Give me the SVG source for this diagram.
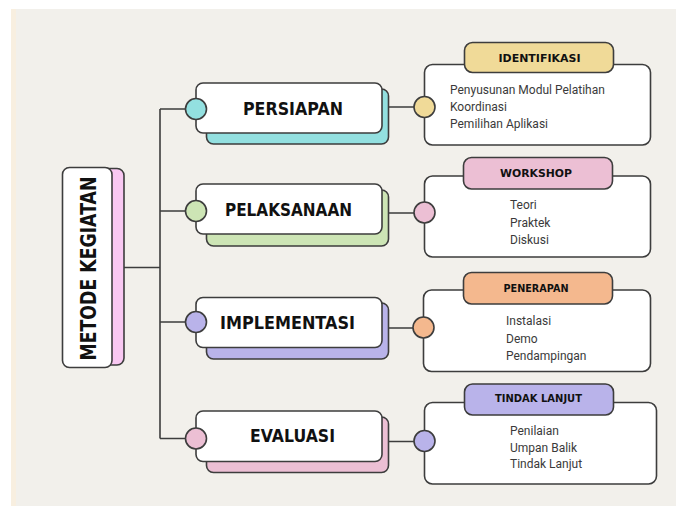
<svg xmlns="http://www.w3.org/2000/svg" width="676" height="514" viewBox="0 0 676 514">
<style>
.ln{fill:none;stroke:#3d3d3d;stroke-width:1.6}
.bx{stroke:#3d3d3d;stroke-width:1.6}
.w{fill:#ffffff}
.ttl{font-family:"DejaVu Sans",sans-serif;font-weight:bold;fill:#111;text-anchor:middle}
.pt{font-family:"DejaVu Sans",sans-serif;font-weight:bold;fill:#111;font-size:11px;text-anchor:middle}
.it{font-family:Roboto,"Liberation Sans",sans-serif;font-size:12px;fill:#3a3a3a}
</style>
<rect x="0" y="0" width="676" height="514" fill="#ffffff"/>
<rect x="11" y="9" width="665" height="497" fill="#f2f0eb"/>
<rect x="11" y="9" width="5" height="497" fill="#f8efe0"/>

<g id="connectors">
<path class="ln" d="M124 267.5 H160 M160 109 V438.5 M160 109 H188 M160 211 H188 M160 322 H188 M160 438.5 H188"/>
<path class="ln" d="M388 107 H414 M388 213 H414 M388 328 H413 M388 441.5 H414"/>
</g>

<g id="node-metode">
<rect class="bx" x="72" y="168.5" width="52" height="196.5" rx="7" fill="#f9c8f2"/>
<rect class="bx w" x="62.5" y="167.5" width="49.5" height="200" rx="7"/>
<text class="ttl" font-size="21" transform="translate(95.5,268.5) rotate(-90)" textLength="184" lengthAdjust="spacingAndGlyphs">METODE KEGIATAN</text>
</g>

<g id="node-persiapan">
<rect class="bx" x="206.5" y="89" width="182" height="55" rx="7" fill="#93e0e0"/>
<rect class="bx w" x="196" y="83" width="186" height="50" rx="7"/>
<circle class="bx" cx="196" cy="109" r="10.5" fill="#93e0e0"/>
<text class="ttl" font-size="18" x="293" y="115" textLength="100" lengthAdjust="spacingAndGlyphs">PERSIAPAN</text>
</g>

<g id="node-pelaksanaan">
<rect class="bx" x="206.5" y="190" width="182" height="56" rx="7" fill="#cde5b5"/>
<rect class="bx w" x="196" y="184" width="186" height="50" rx="7"/>
<circle class="bx" cx="196" cy="211" r="10.5" fill="#cde5b5"/>
<text class="ttl" font-size="18" x="288.5" y="215.5" textLength="127" lengthAdjust="spacingAndGlyphs">PELAKSANAAN</text>
</g>

<g id="node-implementasi">
<rect class="bx" x="206.5" y="303" width="182" height="56" rx="7" fill="#b9b3ea"/>
<rect class="bx w" x="196" y="297.5" width="186" height="50" rx="7"/>
<circle class="bx" cx="196" cy="322" r="10.5" fill="#b9b3ea"/>
<text class="ttl" font-size="18" x="287.5" y="329" textLength="135" lengthAdjust="spacingAndGlyphs">IMPLEMENTASI</text>
</g>

<g id="node-evaluasi">
<rect class="bx" x="206.5" y="417" width="182" height="55.5" rx="7" fill="#ecbfd4"/>
<rect class="bx w" x="196" y="411" width="186" height="50.5" rx="7"/>
<circle class="bx" cx="196" cy="438.5" r="10.5" fill="#ecbfd4"/>
<text class="ttl" font-size="18" x="292.5" y="442" textLength="85" lengthAdjust="spacingAndGlyphs">EVALUASI</text>
</g>

<g id="detail-identifikasi">
<rect class="bx w" x="424.5" y="64.5" width="226" height="80.5" rx="8"/>
<rect class="bx" x="464.5" y="42.5" width="149" height="30" rx="8" fill="#f0da98"/>
<circle class="bx" cx="424.5" cy="107" r="10.5" fill="#f0da98"/>
<text class="pt" x="539.5" y="61.5" textLength="82" lengthAdjust="spacingAndGlyphs">IDENTIFIKASI</text>
<text class="it" x="450" y="94">Penyusunan Modul Pelatihan</text>
<text class="it" x="450" y="111">Koordinasi</text>
<text class="it" x="450" y="128">Pemilihan Aplikasi</text>
</g>

<g id="detail-workshop">
<rect class="bx w" x="424.5" y="176" width="226" height="81" rx="8"/>
<rect class="bx" x="463.5" y="157.5" width="149" height="31.5" rx="8" fill="#ecbfd4"/>
<circle class="bx" cx="424.5" cy="212.5" r="10.5" fill="#ecbfd4"/>
<text class="pt" x="536" y="176.5" textLength="72" lengthAdjust="spacingAndGlyphs">WORKSHOP</text>
<text class="it" x="510" y="209">Teori</text>
<text class="it" x="510" y="226.5">Praktek</text>
<text class="it" x="510" y="244">Diskusi</text>
</g>

<g id="detail-penerapan">
<rect class="bx w" x="423.5" y="290" width="227" height="81.5" rx="8"/>
<rect class="bx" x="463.5" y="272.5" width="149" height="31.5" rx="8" fill="#f4b88e"/>
<circle class="bx" cx="423.5" cy="327.5" r="10.5" fill="#f4b88e"/>
<text class="pt" x="536" y="292" textLength="65" lengthAdjust="spacingAndGlyphs">PENERAPAN</text>
<text class="it" x="506" y="325">Instalasi</text>
<text class="it" x="506" y="342.5">Demo</text>
<text class="it" x="506" y="360">Pendampingan</text>
</g>

<g id="detail-tindak-lanjut">
<rect class="bx w" x="424.5" y="402.5" width="232" height="81.5" rx="8"/>
<rect class="bx" x="464.5" y="384" width="149" height="31" rx="8" fill="#b9b3ea"/>
<circle class="bx" cx="424.5" cy="441" r="10.5" fill="#b9b3ea"/>
<text class="pt" x="538.5" y="401.5" textLength="87" lengthAdjust="spacingAndGlyphs">TINDAK LANJUT</text>
<text class="it" x="510" y="435">Penilaian</text>
<text class="it" x="510" y="451.5">Umpan Balik</text>
<text class="it" x="510" y="468">Tindak Lanjut</text>
</g>
</svg>
